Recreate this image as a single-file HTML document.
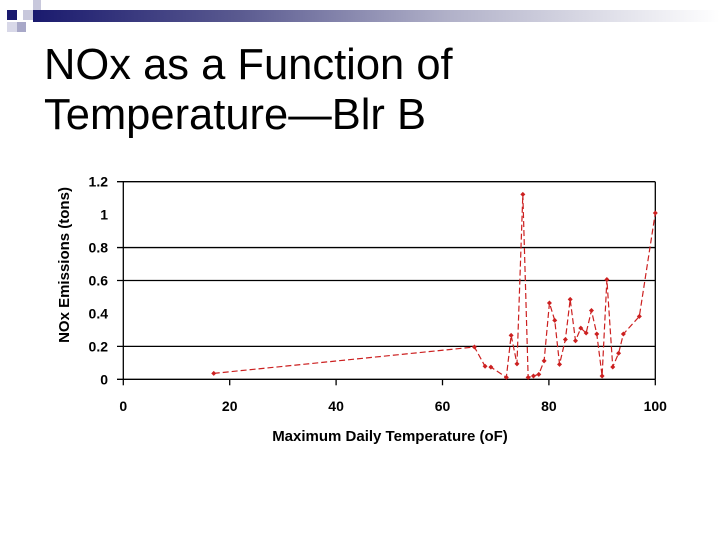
<!DOCTYPE html>
<html><head><meta charset="utf-8"><style>
body{margin:0;width:720px;height:540px;background:#fff;overflow:hidden;position:relative;font-family:"Liberation Sans",Arial,sans-serif}
.t{position:absolute;left:44px;font-size:43.5px;color:#000;line-height:50px}
</style></head><body>
<div style="position:absolute;left:33px;top:10px;width:687px;height:12px;background:linear-gradient(to right,#1a1a6e,#5a5a90 30%,#b0b0c8 60%,#fff)"></div>
<div style="position:absolute;left:7px;top:10px;width:10px;height:10px;background:#1a1a6e"></div>
<div style="position:absolute;left:23px;top:10px;width:10px;height:10px;background:#c8c8dc"></div>
<div style="position:absolute;left:33px;top:0px;width:8px;height:10px;background:#c8c8dc"></div>
<div style="position:absolute;left:17px;top:22px;width:9px;height:10px;background:#a8a8c8"></div>
<div style="position:absolute;left:7px;top:22px;width:10px;height:10px;background:#d8d8e8"></div>
<div class="t" style="top:40px">NOx as a Function of<br>Temperature—Blr B</div>
<svg id="c" width="720" height="540" style="position:absolute;left:0;top:0"></svg>
<script>
const temps=[17,66,68,69.1,72,72.9,74,75.1,76.1,77.1,78.1,79.1,80.1,81.1,82,83.1,84,85,86,87,88,89,90,90.9,92,93.1,94,97,100];
const nox=[0.036,0.196,0.079,0.074,0.012,0.267,0.094,1.123,0.012,0.02,0.03,0.112,0.463,0.358,0.091,0.242,0.485,0.234,0.311,0.281,0.418,0.275,0.02,0.606,0.075,0.158,0.275,0.382,1.01];
const xTicks=[0,20,40,60,80,100];
const yTicks=[0,0.2,0.4,0.6,0.8,1,1.2];
const gridVals=[0,0.2,0.6,0.8,1.2];
const X0=123.3,X1=655.3,Y0=379.3,Y1=181.7;
const sx=v=>X0+(v-0)/100*(X1-X0), sy=v=>Y0-(v-0)/1.2*(Y0-Y1);
const svg=document.getElementById('c'),NS='http://www.w3.org/2000/svg';
function mk(t,a,txt){const e=document.createElementNS(NS,t);for(const k in a)e.setAttribute(k,a[k]);if(txt!=null)e.textContent=txt;svg.appendChild(e);return e;}
gridVals.forEach(v=>{
 const g=mk('line',{x1:117,x2:X1,y1:sy(v),y2:sy(v),stroke:'#000','stroke-width':1.3});
 
 
});
yTicks.forEach(v=>{
 const l=mk('text',{x:108,y:sy(v)+5,'text-anchor':'end','font-size':14,'font-weight':'bold','font-family':'Liberation Sans,Arial,sans-serif'},String(v));
 
 
});
xTicks.forEach(v=>{
 const t=mk('line',{x1:sx(v),x2:sx(v),y1:Y0,y2:Y0+6,stroke:'#000','stroke-width':1.3});
 
 
 const l=mk('text',{x:sx(v),y:411,'text-anchor':'middle','font-size':14,'font-weight':'bold','font-family':'Liberation Sans,Arial,sans-serif'},String(v));
 
 
});
const ax=mk('line',{x1:X0,x2:X0,y1:Y1,y2:Y0,stroke:'#000','stroke-width':1.3});


const rx=mk('line',{x1:X1,x2:X1,y1:Y1,y2:Y0,stroke:'#000','stroke-width':1.3});


const pl=mk('polyline',{points:temps.map((t,i)=>sx(t)+','+sy(nox[i])).join(' '),fill:'none',stroke:'#cc2020','stroke-width':1.2,'stroke-dasharray':'6,3'});


temps.forEach((t,i)=>{
 const p=mk('path',{d:`M${sx(t)-2.5},${sy(nox[i])}L${sx(t)},${sy(nox[i])-2.5}L${sx(t)+2.5},${sy(nox[i])}L${sx(t)},${sy(nox[i])+2.5}Z`,fill:'#cc2020'});
 
 
});
const xt=mk('text',{x:390,y:441,'text-anchor':'middle','font-size':15,'font-weight':'bold','font-family':'Liberation Sans,Arial,sans-serif'},'Maximum Daily Temperature (oF)');


const yt=mk('text',{x:0,y:0,transform:'translate(69,265) rotate(-90)','text-anchor':'middle','font-size':15,'font-weight':'bold','font-family':'Liberation Sans,Arial,sans-serif'},'NOx Emissions (tons)');


</script>
</body></html>
